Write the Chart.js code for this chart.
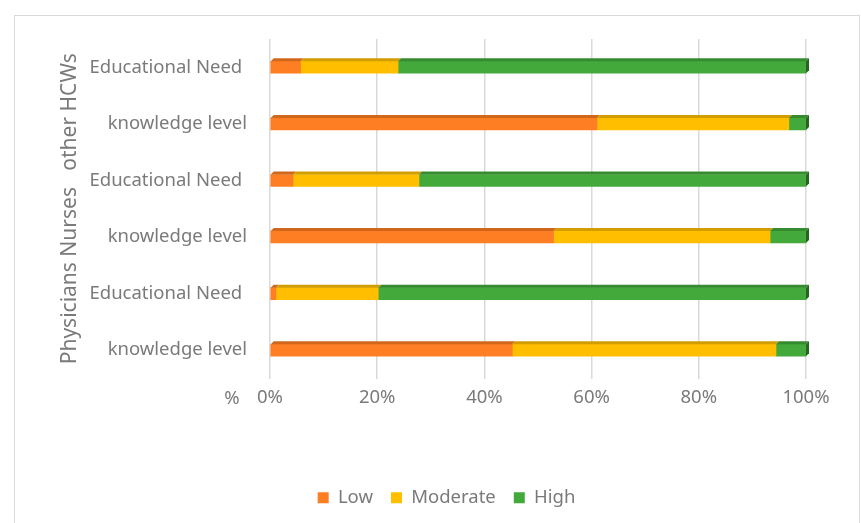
<!DOCTYPE html>
<html>
<head>
<meta charset="utf-8">
<script src="https://cdn.jsdelivr.net/npm/chart.js@4/dist/chart.umd.min.js"></script>
<style>
  html, body { margin: 0; padding: 0; background: #fff; }
  #wrap { position: relative; width: 861px; height: 523px; }
  #frame { position: absolute; left: 14px; top: 15px; width: 846px; height: 510px; border: 1px solid #d9d9d9; box-sizing: border-box; }
  canvas { position: absolute; left: 0; top: 0; }
</style>
</head>
<body>
<div id="wrap">
  <div id="frame"></div>
  <canvas id="chart" width="861" height="523"></canvas>
</div>
<script>
// categories, top to bottom (Excel labels keep a trailing space on "Educational Need ")
var categories = ['Educational Need ', 'knowledge level', 'Educational Need ', 'knowledge level', 'Educational Need ', 'knowledge level'];
// percentages per row (other HCWs, other HCWs, Nurses, Nurses, Physicians, Physicians)
var lowValues = [5.7, 61.0, 4.3, 52.9, 1.1, 45.2];
var moderateValues = [18.2, 35.8, 23.5, 40.4, 19.1, 49.2];
var highValues = [76.1, 3.2, 72.2, 6.7, 79.8, 5.6];
var xTicks = [0, 20, 40, 60, 80, 100];

var FONT = '"Noto Sans", sans-serif';
var TEXT = '#7a7a7a';
var DEPTH = 3;

function shade(hex, f) {
  var n = parseInt(hex.slice(1), 16);
  var r = Math.round(((n >> 16) & 255) * f);
  var g = Math.round(((n >> 8) & 255) * f);
  var b = Math.round((n & 255) * f);
  return 'rgb(' + r + ',' + g + ',' + b + ')';
}

// fake 3D faces on top / right end of each bar
var bar3d = {
  id: 'bar3d',
  afterDatasetsDraw: function(chart) {
    var ctx = chart.ctx;
    var n = chart.data.datasets.length;
    chart.data.datasets.forEach(function(ds, di) {
      var meta = chart.getDatasetMeta(di);
      meta.data.forEach(function(el) {
        var p = el.getProps(['x', 'y', 'base', 'height'], true);
        var top = p.y - p.height / 2;
        var bottom = p.y + p.height / 2;
        ctx.save();
        ctx.fillStyle = shade(ds.backgroundColor, 0.82);
        ctx.beginPath();
        ctx.moveTo(p.base, top);
        ctx.lineTo(p.base + DEPTH, top - DEPTH);
        ctx.lineTo(p.x + DEPTH, top - DEPTH);
        ctx.lineTo(p.x, top);
        ctx.closePath();
        ctx.fill();
        if (di === n - 1) {
          ctx.fillStyle = shade(ds.backgroundColor, 0.6);
          ctx.beginPath();
          ctx.moveTo(p.x, top);
          ctx.lineTo(p.x + DEPTH, top - DEPTH);
          ctx.lineTo(p.x + DEPTH, bottom - DEPTH);
          ctx.lineTo(p.x, bottom);
          ctx.closePath();
          ctx.fill();
        }
        ctx.restore();
      });
    });
  }
};

// "%" label left of the x axis, and nudge the legend right like the original
var extras = {
  id: 'extras',
  afterLayout: function(chart) {
    chart.legend.left += 15;
    chart.legend.right += 15;
  },
  afterDraw: function(chart) {
    var ctx = chart.ctx;
    ctx.save();
    ctx.font = '18.5px ' + FONT;
    ctx.fillStyle = TEXT;
    ctx.textAlign = 'center';
    ctx.textBaseline = 'middle';
    ctx.fillText('%', 232, 399);
    ctx.restore();
  }
};

new Chart(document.getElementById('chart'), {
  type: 'bar',
  data: {
    labels: categories,
    datasets: [
      { label: 'Low', data: lowValues, backgroundColor: '#fd7e23', barThickness: 12 },
      { label: 'Moderate', data: moderateValues, backgroundColor: '#ffbf00', barThickness: 12 },
      { label: 'High', data: highValues, backgroundColor: '#42a93a', barThickness: 12 }
    ]
  },
  options: {
    indexAxis: 'y',
    responsive: false,
    animation: false,
    layout: { padding: { left: 57, right: 55, top: 39, bottom: 6 } },
    plugins: {
      legend: {
        position: 'bottom',
        labels: {
          font: { family: FONT, size: 18.5 },
          color: TEXT,
          boxWidth: 11,
          boxHeight: 11,
          padding: 18
        }
      },
      tooltip: { enabled: false }
    },
    scales: {
      x: {
        stacked: true,
        min: 0,
        max: 100,
        afterBuildTicks: function(s) { s.ticks = xTicks.map(function(v) { return { value: v }; }); },
        afterFit: function(s) { s.height = 92; },
        grid: { color: '#d9d9d9', lineWidth: 1.5, drawTicks: false },
        border: { display: false },
        ticks: {
          padding: 8,
          font: { family: FONT, size: 18.5 },
          color: TEXT,
          callback: function(v) { return v + '%'; }
        }
      },
      y: {
        stacked: true,
        afterFit: function(s) { s.width = 213; },
        grid: { display: false },
        border: { display: false },
        ticks: {
          padding: 15,
          font: { family: FONT, size: 18.5 },
          color: TEXT
        },
        title: {
          display: true,
          text: 'Physicians Nurses   other HCWs',
          font: { family: FONT, size: 21 },
          color: TEXT,
          padding: 0
        }
      }
    }
  },
  plugins: [bar3d, extras]
});
</script>
</body>
</html>
